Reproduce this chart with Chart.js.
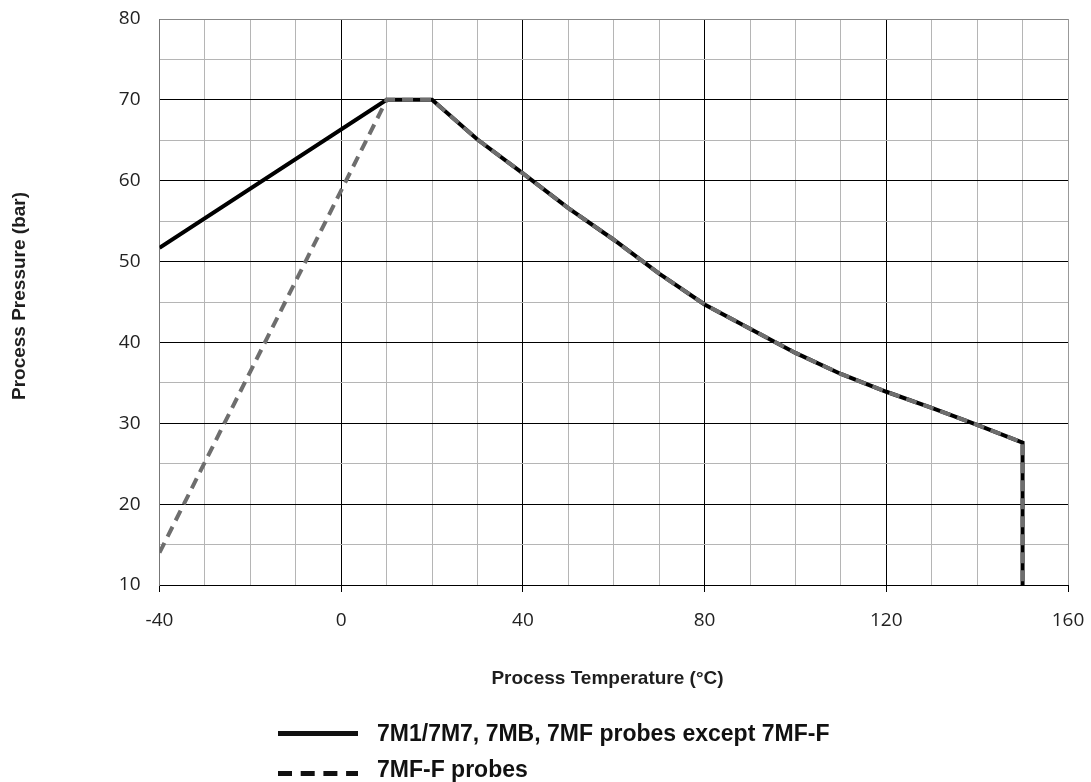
<!DOCTYPE html>
<html lang="en">
<head>
    <meta charset="UTF-8">
    <title>Process Pressure vs Temperature</title>
    <script src="https://cdn.jsdelivr.net/npm/chart.js"></script>
    <style>
        body {
            margin: 0;
            background: #ffffff;
        }
        #wrap {
            width: 1091px;
            height: 782px;
        }
    </style>
</head>
<body>
    <div id="wrap">
        <canvas id="pressureChart" width="1091" height="782"></canvas>
    </div>

    <script>
        // temperature points (°C) shared by both curves after the plateau
        const curveTemps = [20, 30, 40, 50, 60, 70, 80, 90, 100, 110, 120, 130, 140, 150, 150];
        const curvePressures = [70, 65.1, 60.9, 56.6, 52.7, 48.5, 44.7, 41.7, 38.7, 36.1, 33.9, 31.9, 29.8, 27.6, 10];

        // low-temperature start of each curve
        const solidStartTemps = [-40, 10];
        const solidStartPressures = [51.7, 70];
        const dashedStartTemps = [-40, 10];
        const dashedStartPressures = [14, 70];

        const xTickLabels = [-40, 0, 40, 80, 120, 160];
        const yTickLabels = [10, 20, 30, 40, 50, 60, 70, 80];

        const legendLabels = ['7M1/7M7, 7MB, 7MF probes except 7MF-F', '7MF-F probes'];
        const xTitle = 'Process Temperature (°C)';
        const yTitle = 'Process Pressure (bar)';

        function toPoints(xs, ys) {
            return xs.map(function (x, i) { return { x: x, y: ys[i] }; });
        }

        const solidData = toPoints(solidStartTemps.concat(curveTemps), solidStartPressures.concat(curvePressures));
        const dashedData = toPoints(dashedStartTemps.concat(curveTemps), dashedStartPressures.concat(curvePressures));

        // titles and the legend below the plot
        const extrasPlugin = {
            id: 'extras',
            afterDraw: function (chart) {
                const ctx = chart.ctx;
                ctx.save();
                ctx.fillStyle = '#1e1e1e';

                // axis titles
                ctx.font = 'bold 19px "Liberation Sans", Arial, sans-serif';
                ctx.textAlign = 'center';
                ctx.textBaseline = 'alphabetic';
                ctx.fillText(xTitle, 607.5, 684);

                ctx.translate(25, 296);
                ctx.rotate(-Math.PI / 2);
                ctx.fillText(yTitle, 0, 0);
                ctx.setTransform(1, 0, 0, 1, 0, 0);

                // legend swatches
                ctx.strokeStyle = '#111';
                ctx.lineWidth = 5;
                ctx.beginPath();
                ctx.moveTo(278, 733.5);
                ctx.lineTo(358, 733.5);
                ctx.stroke();

                ctx.setLineDash([14, 8.7]);
                ctx.beginPath();
                ctx.moveTo(278, 773.5);
                ctx.lineTo(358, 773.5);
                ctx.stroke();
                ctx.setLineDash([]);

                // legend text
                ctx.fillStyle = '#111';
                ctx.font = 'bold 23px "Liberation Sans", Arial, sans-serif';
                ctx.textAlign = 'left';
                ctx.fillText(legendLabels[0], 377, 740.5, 469);
                ctx.fillText(legendLabels[1], 377, 777, 469);
                ctx.restore();
            }
        };

        function initChart() {
            new Chart(document.getElementById('pressureChart'), {
                type: 'line',
                data: {
                    datasets: [{
                        label: legendLabels[1],
                        data: dashedData,
                        borderColor: '#6e6e6e',
                        borderWidth: 4,
                        borderDash: [11, 7],
                        pointRadius: 0,
                        tension: 0,
                        fill: false,
                        order: 0
                    }, {
                        label: legendLabels[0],
                        data: solidData,
                        borderColor: '#000000',
                        borderWidth: 4,
                        pointRadius: 0,
                        tension: 0,
                        fill: false,
                        order: 1
                    }]
                },
                options: {
                    responsive: false,
                    maintainAspectRatio: false,
                    animation: false,
                    layout: {
                        padding: { top: 19, right: 23, left: 0, bottom: 0 }
                    },
                    plugins: {
                        legend: { display: false },
                        tooltip: { enabled: false }
                    },
                    scales: {
                        x: {
                            type: 'linear',
                            min: -40,
                            max: 160,
                            afterFit: function (scale) {
                                scale.height = 197;
                                scale.paddingLeft = 0;
                                scale.paddingRight = 0;
                            },
                            border: { color: '#000', width: 1 },
                            grid: {
                                color: function (c) {
                                    const v = c.tick.value;
                                    if (v === 160) return '#999';
                                    if (v === -40) return '#777';
                                    return v % 40 === 0 ? '#000' : '#b5b5b5';
                                },
                                tickColor: function (c) {
                                    return c.tick.value % 40 === 0 ? '#000' : 'rgba(0,0,0,0)';
                                },
                                tickLength: 7,
                                lineWidth: 1
                            },
                            ticks: {
                                stepSize: 10,
                                autoSkip: false,
                                maxRotation: 0,
                                padding: 17,
                                color: '#222',
                                font: { family: '"Open Sans", sans-serif', size: 19 },
                                callback: function (v) {
                                    return xTickLabels.indexOf(v) >= 0 ? String(v) : '';
                                }
                            }
                        },
                        y: {
                            type: 'linear',
                            min: 10,
                            max: 80,
                            afterFit: function (scale) {
                                scale.width = 159.5;
                                scale.paddingTop = 0;
                                scale.paddingBottom = 0;
                            },
                            border: { color: '#777', width: 1 },
                            grid: {
                                color: function (c) {
                                    const v = c.tick.value;
                                    if (v === 80) return '#888';
                                    return v % 10 === 0 ? '#000' : '#b5b5b5';
                                },
                                drawTicks: false,
                                lineWidth: 1
                            },
                            ticks: {
                                stepSize: 5,
                                autoSkip: false,
                                padding: 19,
                                color: '#222',
                                font: { family: '"Open Sans", sans-serif', size: 19 },
                                callback: function (v) {
                                    return yTickLabels.indexOf(v) >= 0 ? String(v) : '';
                                }
                            }
                        }
                    }
                },
                plugins: [extrasPlugin]
            });
        }

        document.addEventListener('DOMContentLoaded', function () {
            initChart();
        });
    </script>
</body>
</html>
